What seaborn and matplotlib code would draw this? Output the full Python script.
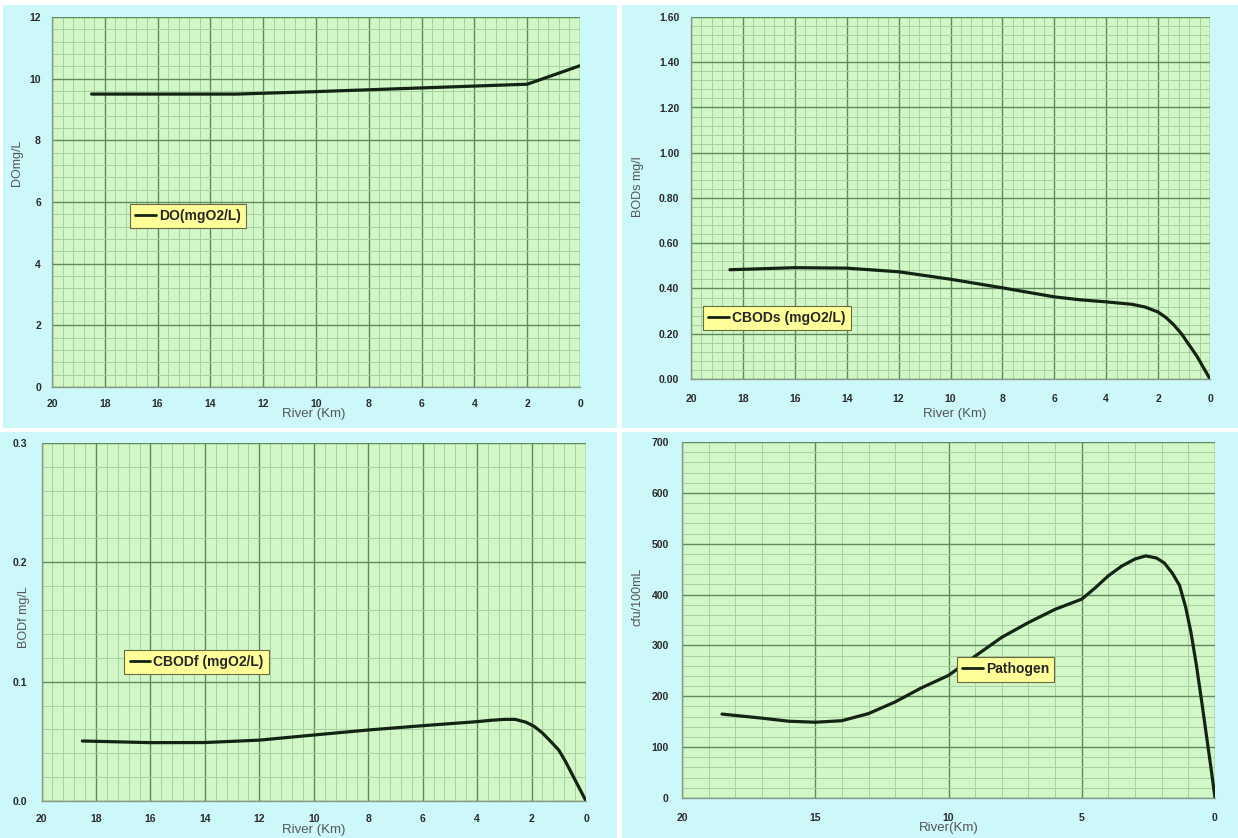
import matplotlib
matplotlib.use("Agg")
import matplotlib.pyplot as plt
from matplotlib.patches import Rectangle
from matplotlib.lines import Line2D
from matplotlib.ticker import MultipleLocator, FormatStrFormatter
import pandas as pd
import seaborn as sns

sns.set_theme(style="white")
plt.rcParams["font.family"] = ["Liberation Sans", "DejaVu Sans"]

# ---- river profile data (distance upstream of outlet, km) ----
do_km = [18.5, 13, 10, 6, 2, 0]
do_val = [9.5, 9.5, 9.58, 9.7, 9.82, 10.42]

cbods_km = [18.5, 16, 14, 12, 10, 8, 6, 5, 4, 3, 2.5, 2, 1.7, 1.4, 1.1, 0.8, 0.5,
            0.25, 0]
cbods_val = [0.483, 0.492, 0.490, 0.474, 0.441, 0.403, 0.363, 0.350, 0.341, 0.330,
             0.318, 0.296, 0.272, 0.240, 0.200, 0.150, 0.100, 0.050, 0.0]

cbodf_km = [18.5, 16, 14, 12, 10, 8, 6, 4, 3.5, 3, 2.6, 2.2, 1.9, 1.6, 1.3, 1.0,
            0.75, 0.5, 0.25, 0]
cbodf_val = [0.0503, 0.0489, 0.049, 0.051, 0.0553, 0.0595, 0.0631, 0.0665, 0.0676,
             0.0684, 0.0684, 0.066, 0.0625, 0.057, 0.050, 0.0427, 0.033, 0.022,
             0.011, 0.0]

path_km = [18.5, 17, 16, 15, 14, 13, 12, 11, 10, 9, 8, 7, 6, 5, 4.5, 4, 3.5, 3,
           2.6, 2.2, 1.9, 1.6, 1.33, 1.1, 0.9, 0.7, 0.5, 0.3, 0.15, 0]
path_val = [165, 157, 151, 149, 152, 166, 189, 217, 241, 279, 316, 345, 371, 391,
            413, 437, 456, 470, 476, 472, 462, 442, 418, 375, 325, 262, 190, 115,
            59, 0]

W, H = 1238, 838
fig = plt.figure(figsize=(W / 100, H / 100), dpi=100)
fig.patch.set_facecolor("white")

PANEL_BG = "#ccf8fa"
PLOT_BG = "#d2f7c6"
MAJOR = "#5f8a5f"
MINOR = "#a8cfa0"
LINE = "#142414"


def px_rect(x0, y0, x1, y1):
    return [x0 / W, 1 - y1 / H, (x1 - x0) / W, (y1 - y0) / H]


# cyan card behind each chart
for x0, y0, x1, y1 in [(3, 5, 617, 428), (622, 5, 1238, 428),
                       (0, 432, 617, 838), (622, 432, 1238, 838)]:
    fig.patches.append(Rectangle((x0 / W, 1 - y1 / H), (x1 - x0) / W, (y1 - y0) / H,
                                 transform=fig.transFigure, facecolor=PANEL_BG,
                                 edgecolor="none", zorder=-10))

panels = [
    dict(rect=(52, 17, 580, 387), km=do_km, val=do_val, ylim=(0, 12), ymaj=2,
         fmt="%d", xmaj=2, ylabel="DOmg/L", xlabel="River (Km)",
         legend="DO(mgO2/L)", leg=(0.148, 0.495), xpad=6.0, ypad=5.5,
         ylc=(-0.054, 0.605), xlc=(0.496, -0.057)),
    dict(rect=(691, 17, 1210, 379), km=cbods_km, val=cbods_val, ylim=(0, 1.6),
         ymaj=0.2, fmt="%.2f", xmaj=2, ylabel="BODs mg/l", xlabel="River (Km)",
         legend="CBODs (mgO2/L)", leg=(0.023, 0.202), xpad=8.5, ypad=6.0,
         ylc=(-0.0915, 0.53), xlc=(0.509, -0.080)),
    dict(rect=(41.5, 443, 586, 801), km=cbodf_km, val=cbodf_val, ylim=(0, 0.3),
         ymaj=0.1, fmt="%.1f", xmaj=2, ylabel="BODf mg/L", xlabel="River (Km)",
         legend="CBODf (mgO2/L)", leg=(0.152, 0.422), xpad=7.0, ypad=8.0,
         ylc=(-0.021, 0.514), xlc=(0.5, -0.064)),
    dict(rect=(682, 442, 1215, 798), km=path_km, val=path_val, ylim=(0, 700),
         ymaj=100, fmt="%d", xmaj=5, ylabel="cfu/100mL", xlabel="River(Km)",
         legend="Pathogen", leg=(0.516, 0.396), xpad=8.5, ypad=7.0,
         ylc=(-0.072, 0.565), xlc=(0.5, -0.068)),
]

for p in panels:
    ax = fig.add_axes(px_rect(*p["rect"]))
    ax.set_zorder(1)
    ax.set_facecolor(PLOT_BG)
    df = pd.DataFrame({"km": p["km"], "value": p["val"]})
    sns.lineplot(data=df, x="km", y="value", ax=ax, color=LINE, linewidth=2.3,
                 sort=False, estimator=None)
    ax.set_xlim(20, 0)
    ax.set_ylim(*p["ylim"])
    ax.xaxis.set_major_locator(MultipleLocator(p["xmaj"]))
    ax.xaxis.set_minor_locator(MultipleLocator(p["xmaj"] / 5))
    ax.yaxis.set_major_locator(MultipleLocator(p["ymaj"]))
    ax.yaxis.set_minor_locator(MultipleLocator(p["ymaj"] / 5))
    ax.yaxis.set_major_formatter(FormatStrFormatter(p["fmt"]))
    ax.xaxis.set_major_formatter(FormatStrFormatter("%d"))
    ax.grid(which="minor", color=MINOR, linewidth=0.7)
    ax.grid(which="major", color=MAJOR, linewidth=1.0)
    ax.set_axisbelow(True)
    for s in ["top", "right"]:
        ax.spines[s].set_visible(False)
    for s in ["left", "bottom"]:
        ax.spines[s].set_color("#8a9a8a")
        ax.spines[s].set_linewidth(1.0)
    ax.tick_params(axis="both", which="major", length=2.5, width=0.8, color="#808080",
                   labelsize=7.5, labelcolor="#2a2a2a")
    ax.tick_params(axis="x", which="major", pad=p["xpad"])
    ax.tick_params(axis="y", which="major", pad=p["ypad"])
    ax.tick_params(axis="both", which="minor", length=0)
    for lab in ax.get_xticklabels() + ax.get_yticklabels():
        lab.set_fontweight("bold")
    ax.set_ylabel(p["ylabel"], fontsize=9, color="#555555")
    ax.set_xlabel(p["xlabel"], fontsize=9.5, color="#555555")
    ax.yaxis.set_label_coords(*p["ylc"])
    ax.xaxis.set_label_coords(*p["xlc"])
    handle = Line2D([0], [0], color=LINE, linewidth=2.0)
    leg = ax.legend([handle], [p["legend"]], loc="upper left",
                    bbox_to_anchor=p["leg"], frameon=True, fancybox=False,
                    facecolor="#ffff99", edgecolor="#6a6a40", framealpha=1,
                    handlelength=1.5, handletextpad=0.2, borderpad=0.38,
                    borderaxespad=0, prop={"weight": "bold", "size": 10})
    leg.get_frame().set_linewidth(0.8)

fig.savefig("out.png", dpi=100)
